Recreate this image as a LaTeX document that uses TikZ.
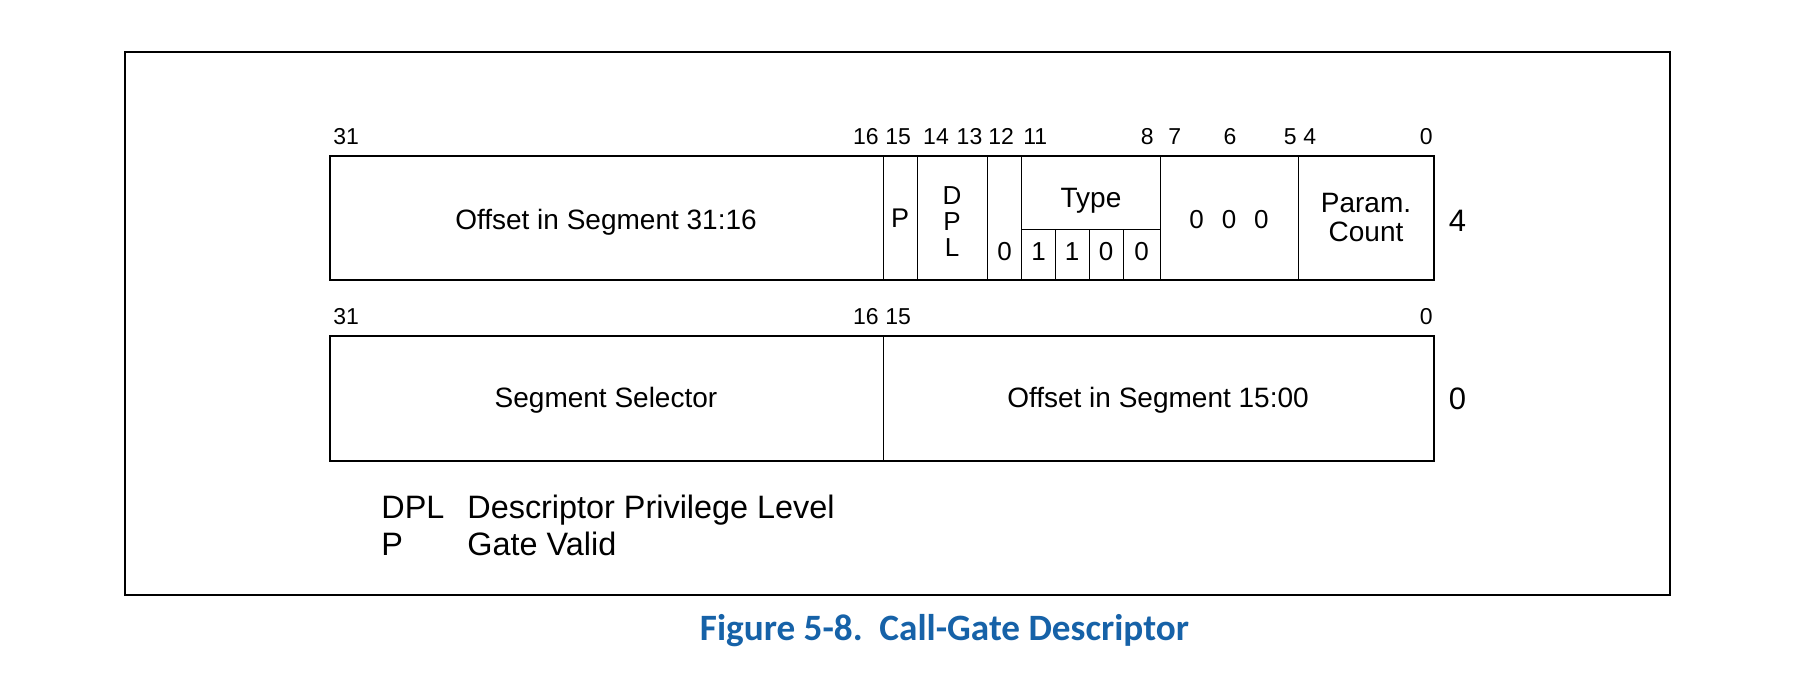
\documentclass[tikz,border=0pt]{standalone}
\usepackage{fontspec}
\setmainfont{Liberation Sans}
\newfontfamily\capfont{Carlito}
\definecolor{capblue}{RGB}{22,98,168}
\tikzset{
	bitnum/.style={inner sep=0pt, font=\fontsize{11.5}{13}\selectfont},
	cellbig/.style={anchor=base, inner sep=0pt, font=\fontsize{14}{16}\selectfont},
	cellbit/.style={anchor=base, inner sep=0pt, font=\fontsize{13}{15}\selectfont},
	legend/.style={anchor=base west, inner sep=0pt, font=\fontsize{16.2}{18}\selectfont},
	regbox/.style={line width=0.75pt},
	divider/.style={line width=0.5pt}
}

\begin{document}
\begin{tikzpicture}[x=0.5pt, y=-0.5pt]
	% picture area 1796 x 700 px, y downwards
	\useasboundingbox (0,0) rectangle (1796,700);
	% outer frame
	\draw[line width=0.9pt] (125,52) rectangle (1670,595);

	% upper doubleword (offset 4)
	\draw[regbox] (330,156) rectangle (1434,280);
	\foreach \x in {883, 917, 987.5, 1021.5, 1160.5, 1298}
		\draw[divider] (\x,156) -- (\x,280);
	\draw[divider] (1021.5,230) -- (1160.5,230);
	\foreach \x in {1055.5, 1089, 1123}
		\draw[divider] (\x,230) -- (\x,280);
	% bit numbers
	\node[bitnum, anchor=base west] (u31) at (333,145) {31};
	\node[bitnum, anchor=base east] (u16) at (879,145) {16};
	\node[bitnum, anchor=base west] (u15) at (885,145) {15};
	\node[bitnum, anchor=base] (u14) at (936,145) {14};
	\node[bitnum, anchor=base] (u13) at (969.5,145) {13};
	\node[bitnum, anchor=base west] (u12) at (988,145) {12};
	\node[bitnum, anchor=base west] (u11) at (1023,145) {11};
	\node[bitnum, anchor=base east] (u8) at (1154,145) {8};
	\node[bitnum, anchor=base west] (u7) at (1168,145) {7};
	\node[bitnum, anchor=base] (u6) at (1230,145) {6};
	\node[bitnum, anchor=base east] (u5) at (1297,145) {5};
	\node[bitnum, anchor=base west] (u4) at (1303,145) {4};
	\node[bitnum, anchor=base east] (u0) at (1433,145) {0};
	% fields
	\node[cellbig] (offhi) at (606,230) {Offset in Segment 31:16};
	\node[cellbig, font=\fontsize{13.5}{15}\selectfont] (pbit) at (900,228) {P};
	\node[cellbit] (dplD) at (952,205) {D};
	\node[cellbit] (dplP) at (952,231) {P};
	\node[cellbit] (dplL) at (952,257) {L};
	\node[cellbit] (b12) at (1004.5,261) {0};
	\node[cellbig] (type) at (1091,208) {Type};
	\foreach \x/\v [count=\i] in {1038.5/1, 1072/1, 1106/0, 1141.5/0}
		\node[cellbit] (t\i) at (\x,261) {\v};
	\node[cellbit] (zeros) at (1229,229) {0\hspace{9pt}0\hspace{9pt}0};
	\node[cellbig] (pcnt1) at (1366,213) {Param.};
	\node[cellbig] (pcnt2) at (1366,242) {Count};
	\node[cellbig, font=\fontsize{15.5}{17}\selectfont] (row4) at (1457.5,232) {4};

	% lower doubleword (offset 0)
	\draw[regbox] (330,336) rectangle (1434,461);
	\draw[divider] (883,336) -- (883,461);
	\node[bitnum, anchor=base west] (l31) at (333,325) {31};
	\node[bitnum, anchor=base east] (l16) at (879,325) {16};
	\node[bitnum, anchor=base west] (l15) at (885,325) {15};
	\node[bitnum, anchor=base east] (l0) at (1433,325) {0};
	\node[cellbig] (segsel) at (606,408) {Segment Selector};
	\node[cellbig] (offlo) at (1158,408) {Offset in Segment 15:00};
	\node[cellbig, font=\fontsize{15.5}{17}\selectfont] (row0) at (1457.5,410) {0};

	% legend
	\node[legend] (kdpl) at (381,518) {DPL};
	\node[legend] (tdpl) at (467,518) {Descriptor Privilege Level};
	\node[legend] (kp) at (381,555) {P};
	\node[legend] (tp) at (467,555) {Gate Valid};

	% caption
	\node[anchor=base, inner sep=0pt, text=capblue, font=\capfont\bfseries\fontsize{18.6}{22}\selectfont] (cap) at (944.5,640) {Figure 5-8.~~Call-Gate Descriptor};
\end{tikzpicture}
\end{document}
